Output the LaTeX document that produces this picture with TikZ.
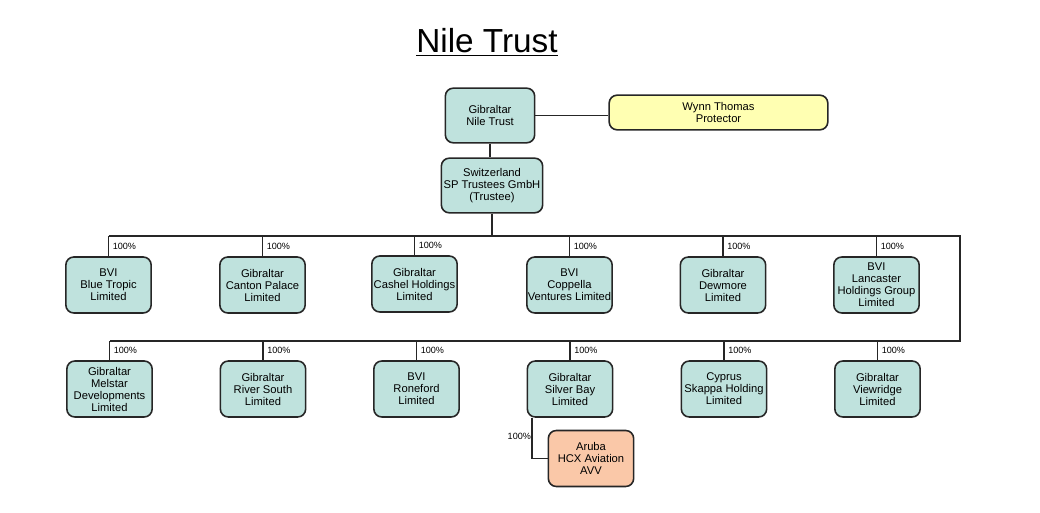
\documentclass[tikz,border=0pt]{standalone}
\usepackage{fontspec}
\setmainfont{Liberation Sans}
\usetikzlibrary{backgrounds}
\definecolor{teal}{RGB}{191,226,221}
\definecolor{yel}{RGB}{255,255,178}
\definecolor{ora}{RGB}{250,200,168}
\tikzset{
  ent/.style={draw=black!85, line width=1.2pt, rounded corners=6pt, fill=teal,
    minimum width=64pt, minimum height=42pt, inner sep=0.5pt, align=center,
    font=\fontsize{8.4}{9}\selectfont},
  pct/.style={anchor=west, inner sep=0pt, font=\fontsize{6.8}{7}\selectfont},
  conn/.style={line width=1.3pt, draw=black!85}
}
\begin{document}
\begin{tikzpicture}[x=0.75pt,y=-0.75pt]
\useasboundingbox (0,0) rectangle (1040,513);
\node[font=\fontsize{25}{28}\selectfont, inner sep=0pt] (title) at (487,42) {\underline{Nile Trust}};
\node[ent, minimum width=67pt, minimum height=41pt] (nt) at (490,115.5) {Gibraltar\\Nile Trust};
\node[ent, fill=yel, minimum width=164pt, minimum height=26pt] (pr) at (718.5,112.5) {Wynn Thomas\\Protector};
\node[ent, minimum width=76pt, minimum height=41pt] (sw) at (492,185.5) {Switzerland\\SP Trustees GmbH\\(Trustee)};
% row 1
\node[ent] (a1) at (108.5,285) {BVI\\Blue Tropic\\Limited};
\node[ent] (a2) at (262.5,285) {Gibraltar\\Canton Palace\\Limited};
\node[ent] (a3) at (414.5,284) {Gibraltar\\Cashel Holdings\\Limited};
\node[ent] (a4) at (569.5,285) {BVI\\Coppella\\Ventures Limited};
\node[ent] (a5) at (723,285) {Gibraltar\\Dewmore\\Limited};
\node[ent] (a6) at (876.5,285) {BVI\\Lancaster\\Holdings Group\\Limited};
% row 2
\node[ent] (b1) at (109.5,389) {Gibraltar\\Melstar\\Developments\\Limited};
\node[ent] (b2) at (263,389) {Gibraltar\\River South\\Limited};
\node[ent] (b3) at (416.5,389) {BVI\\Roneford\\Limited};
\node[ent] (b4) at (570,389) {Gibraltar\\Silver Bay\\Limited};
\node[ent] (b5) at (724,389) {Cyprus\\Skappa Holding\\Limited};
\node[ent] (b6) at (877.5,389) {Gibraltar\\Viewridge\\Limited};
\node[ent, fill=ora] (ar) at (591,458.5) {Aruba\\HCX Aviation\\AVV};
\coordinate (bus1L) at (108.5,236);
\coordinate (bus1R) at (960,236);
\coordinate (bus2R) at (960,341);
\coordinate (bus2L) at (109.5,341);
\begin{scope}[on background layer]
\draw[conn] (nt.east) -- (nt.east -| pr.west);
\draw[conn] (nt.south) -- (nt.south |- sw.north);
\draw[conn] (sw.south) -- (sw.south |- bus1L);
\draw[conn] (bus1L) -- (bus1R) -- (bus2R) -- (bus2L);
\foreach \n in {a1,a2,a3,a4,a5,a6}{\draw[conn] (\n.north) -- (\n.north |- bus1L);}
\foreach \n in {b1,b2,b3,b4,b5,b6}{\draw[conn] (\n.north) -- (\n.north |- bus2L);}
\draw[conn] ([xshift=4pt]b4.south west) |- (ar.west);
\end{scope}
\foreach \n in {a1,a2,a3,a4,a5,a6}{\node[pct] at ([xshift=3pt,yshift=7.5pt]\n.north) {100\%};}
\foreach \n in {b1,b2,b3,b4,b5,b6}{\node[pct] at ([xshift=3pt,yshift=7.5pt]\n.north) {100\%};}
\node[pct, anchor=east] (p) at ([xshift=3.5pt,yshift=-14pt]b4.south west) {100\%};
\end{tikzpicture}
\end{document}
